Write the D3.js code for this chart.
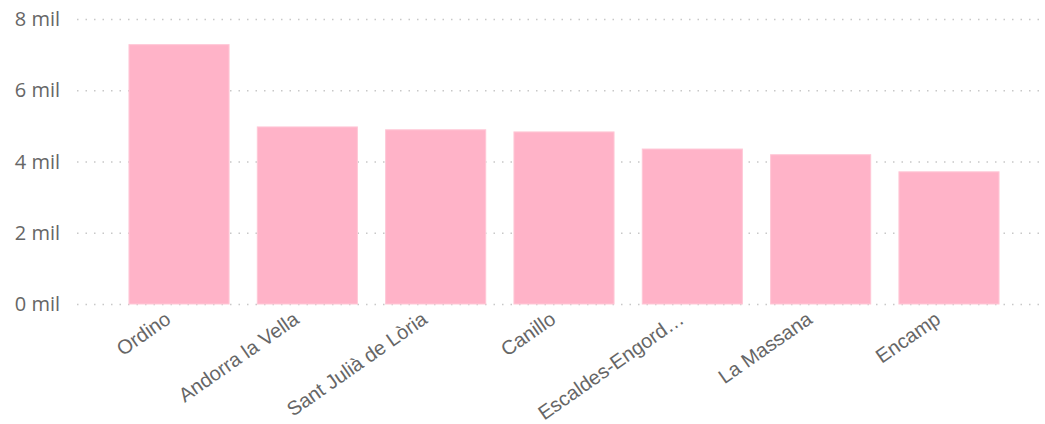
<!DOCTYPE html>
<html>
<head>
<meta charset="utf-8">
<script src="https://cdn.jsdelivr.net/npm/d3@7"></script>
<style>
  body { margin: 0; background: #fff; }
  svg { display: block; }
</style>
</head>
<body>
<svg id="chart" width="1045" height="424"></svg>
<script>
// parròquies d'Andorra
const categories = ['Ordino', 'Andorra la Vella', 'Sant Julià de Lòria', 'Canillo', 'Escaldes-Engord…', 'La Massana', 'Encamp'];
const values = [7280, 4970, 4890, 4830, 4350, 4190, 3710];
const yTicks = [0, 2000, 4000, 6000, 8000];

const svg = d3.select('#chart');
const margens = { left: 77, right: 0, top: 19, bottom: 120 };
const width = 1045;
const height = 424;

const x = d3.scaleBand()
    .domain(categories)
    .range([margens.left, 1051])
    .paddingInner(0.22)
    .paddingOuter(0.405);

const y = d3.scaleLinear()
    .domain([0, 8000])
    .range([304, margens.top]);

// ---- grid
svg.append('g')
    .selectAll('line')
    .data(yTicks)
    .join('line')
    .attr('x1', margens.left)
    .attr('x2', width)
    .attr('y1', d => y(d) + 0.5)
    .attr('y2', d => y(d) + 0.5)
    .attr('stroke', '#c8c8c8')
    .attr('stroke-width', 1.5)
    .attr('stroke-dasharray', '1.5 7');

// ---- y axis labels
svg.append('g')
    .selectAll('text')
    .data(yTicks)
    .join('text')
    .attr('x', 60)
    .attr('y', d => y(d))
    .attr('dy', '0.35em')
    .attr('text-anchor', 'end')
    .attr('fill', '#666')
    .attr('font-family', '"Segoe UI", "Open Sans", sans-serif')
    .attr('font-size', '20px')
    .text(d => `${d / 1000} mil`);

// ---- bars
svg.append('g')
    .selectAll('rect')
    .data(values)
    .join('rect')
    .attr('x', (d, i) => x(categories[i]))
    .attr('y', d => y(d))
    .attr('width', x.bandwidth())
    .attr('height', d => y(0) - y(d))
    .attr('fill', '#ffb3c8')
    .attr('stroke', '#ffc7d6')
    .attr('stroke-width', 1);

// ---- x labels
svg.append('g')
    .selectAll('text')
    .data(categories)
    .join('text')
    .attr('transform', d => `translate(${x(d) + x.bandwidth() / 2 - 7}, 322) rotate(-35)`)
    .attr('text-anchor', 'end')
    .attr('fill', '#666')
    .attr('font-family', '"Liberation Sans", Arial, sans-serif')
    .attr('font-size', '20px')
    .text(d => d);
</script>
</body>
</html>
